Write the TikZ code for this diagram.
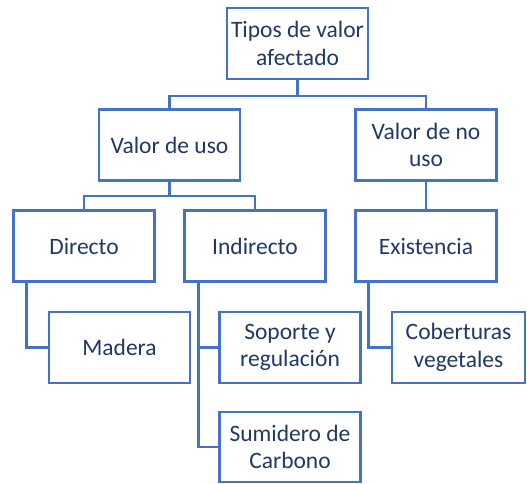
\documentclass[tikz,border=0pt]{standalone}
\usepackage{fontspec}
\setmainfont{Carlito}
\definecolor{boxblue}{HTML}{4472C4}
\definecolor{textnavy}{HTML}{203864}

\begin{document}
\begin{tikzpicture}[x=1pt,y=-1pt,
    box/.style={draw=boxblue,line width=2.3pt,minimum width=141pt,
      minimum height=71pt,inner sep=2pt,align=center,text=textnavy,
      font=\fontsize{23.5}{27.5}\selectfont},
    link/.style={draw=boxblue,line width=2.3pt}]
    \useasboundingbox (0,0) rectangle (527,483);

    \node [box] (tipos) at (297.5,43.5) {Tipos de valor\\afectado};

    \node [box] (uso) at (169.5,145) {Valor de uso};
    \node [box] (nouso) at (426,145) {Valor de no\\uso};

    \node [box] (directo) at (84,246) {Directo};
    \node [box] (indirecto) at (255,246) {Indirecto};
    \node [box] (existencia) at (426,246) {Existencia};

    \node [box] (madera) at (119.5,347.5) {Madera};
    \node [box] (soporte) at (290,347.5) {Soporte y\\regulación};
    \node [box,minimum width=133pt] (cober) at (458.5,347.5)
    {Coberturas\\vegetales};
    \node [box,minimum height=70pt] (sumidero) at (290,447)
    {Sumidero de\\Carbono};

    \coordinate (bus1) at ([yshift=-16pt]tipos.south);
    \coordinate (bus2) at ([yshift=-14pt]uso.south);

    \draw [link] (tipos.south) -- (bus1);
    \draw [link] (bus1) -| (uso.north);
    \draw [link] (bus1) -| (nouso.north);

    \draw [link] (uso.south) -- (bus2);
    \draw [link] (bus2) -| (directo.north);
    \draw [link] (bus2) -| (indirecto.north);

    \draw [link] (nouso.south) -- (existencia.north);

    \coordinate (dtrunk) at ([xshift=14pt]directo.south west);
    \coordinate (itrunk) at ([xshift=15pt]indirecto.south west);
    \coordinate (etrunk) at ([xshift=14pt]existencia.south west);

    \draw [link] (dtrunk) |- (madera.west);
    \draw [link] (itrunk) |- (soporte.west);
    \draw [link] (itrunk) |- (sumidero.west);
    \draw [link] (etrunk) |- (cober.west);
  \end{tikzpicture}
\end{document}
